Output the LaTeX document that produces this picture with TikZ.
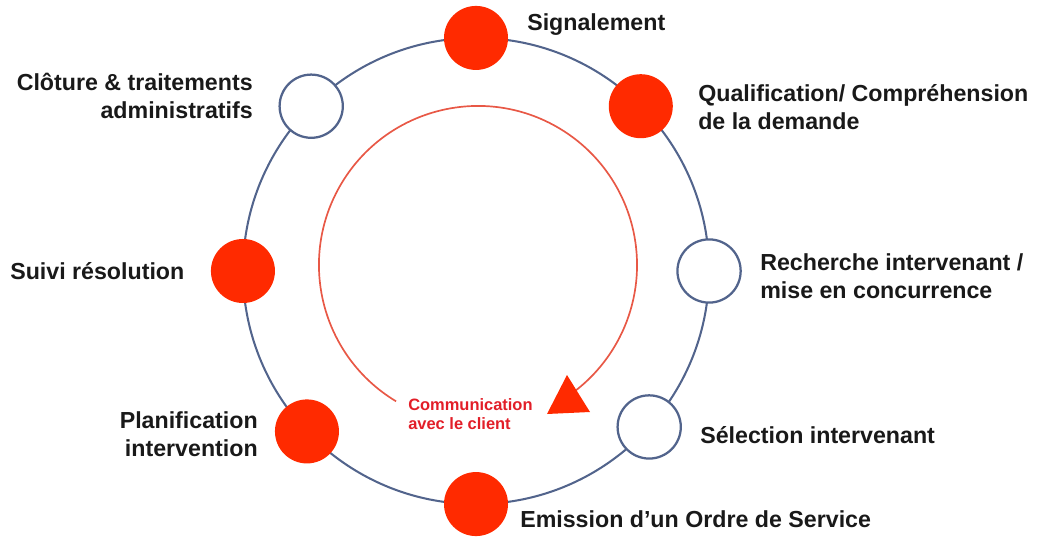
\documentclass[tikz,border=0pt]{standalone}
\usepackage{fontspec}
\setmainfont{Liberation Sans}
\usepackage{tikz}
\usetikzlibrary{calc}
\definecolor{ringblue}{RGB}{82,100,140}
\definecolor{stepred}{RGB}{255,42,0}
\definecolor{arcred}{RGB}{232,88,70}
\definecolor{commred}{RGB}{226,30,40}
\tikzset
{
  ring/.style={draw=ringblue,line width=1.45pt},
  redstep/.style={circle,fill=stepred,minimum size=1.6cm,inner sep=0pt},
  openstep/.style={circle,draw=ringblue,fill=white,line width=1.6pt,minimum size=1.58cm,inner sep=0pt},
  steplabel/.style={font=\fontsize{16.5}{19.8}\selectfont\bfseries,text=black!90,inner sep=0pt},
  commlabel/.style={font=\fontsize{11.7}{13}\selectfont\bfseries,text=commred,inner sep=0pt}
}

\begin{document}
\begin{tikzpicture}[x=0.025cm,y=-0.025cm]
        \useasboundingbox (0,0) rectangle (1040,537);
        \coordinate (centre) at (476,271);
        \coordinate (inner) at (478,265);

        % Draw ring
        \draw[ring] (centre) circle[radius=5.825cm];

        % Steps on the ring
        \foreach \name/\ang/\kind in {sig/90/redstep, qual/45/redstep, rech/0/openstep, sel/-42/openstep,
                                      emis/-90/redstep, planif/-136.5/redstep, suivi/180/redstep, clot/135/openstep}
            \node[\kind] (\name) at ($(centre)+(\ang:5.825cm)$) {};

        % Step labels
        \node[steplabel, anchor=base west] (sigtext) at (527,31) {Signalement};
        \node[steplabel, align=left, anchor=west] (qualtext) at (698,107) {Qualification/ Compréhension\\de la demande};
        \node[steplabel, align=left, anchor=west] (rechtext) at (760,276) {Recherche intervenant /\\mise en concurrence};
        \node[steplabel, anchor=west] (seltext) at (700,435) {Sélection intervenant};
        \node[steplabel, anchor=west] (emistext) at (520,519) {Emission d’un Ordre de Service};
        \node[steplabel, align=right, anchor=east] (planiftext) at (258,434) {Planification\\intervention};
        \node[steplabel, anchor=west] (suivitext) at (10,271) {Suivi résolution};
        \node[steplabel, align=right, anchor=east] (clottext) at (253,96) {Clôture \& traitements\\administratifs};

        % Inner loop with the client
        \draw[arcred, line width=1.2pt] ($(inner)+(239:3.975cm)$) arc[start angle=239, end angle=-53, radius=3.975cm];
        \fill[stepred] (567,375) -- (547,414) -- (590,412) -- cycle;
        \node[commlabel, align=left, anchor=west] (comm) at (408,414) {Communication\\avec le client};
    \end{tikzpicture}
\end{document}
